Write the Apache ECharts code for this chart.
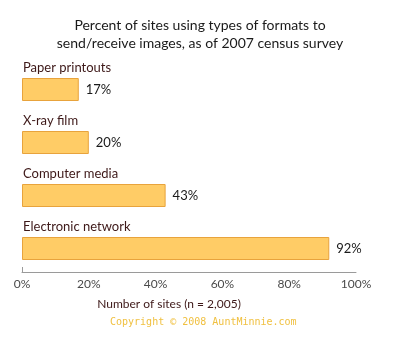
<!DOCTYPE html>
<html>
<head>
<meta charset="utf-8">
<script src="https://cdn.jsdelivr.net/npm/echarts@6/dist/echarts.min.js"></script>
<style>
  html, body { margin: 0; padding: 0; background: #fff; }
  #chart { width: 400px; height: 339px; }
</style>
</head>
<body>
<div id="chart"></div>
<script>
// Formats used to send/receive images (top to bottom)
const categories = ['Paper printouts', 'X-ray film', 'Computer media', 'Electronic network'];
const percentages = [17, 20, 43, 92];
const tickValues = [0, 20, 40, 60, 80, 100];

const titleText = 'Percent of sites using types of formats to\nsend/receive images, as of 2007 census survey';
const axisTitle = 'Number of sites (n = 2,005)';
const copyrightText = 'Copyright \u00a9 2008 AuntMinnie.com';

const FONT = 'Lato, "Noto Sans", sans-serif';
const MAROON = '#3d1818';

const chart = echarts.init(document.getElementById('chart'), null, { renderer: 'canvas' });

chart.setOption({
  backgroundColor: '#ffffff',
  animation: false,
  title: [
    {
      text: titleText,
      left: 'center',
      top: 16,
      padding: 0,
      textStyle: { fontFamily: FONT, fontSize: 14, fontWeight: 'normal', color: '#1a1a1a', lineHeight: 18 }
    },
    {
      text: copyrightText,
      left: 110,
      top: 317,
      padding: 0,
      textStyle: { fontFamily: '"DejaVu Sans Mono", monospace', fontSize: 10, fontWeight: 'normal', color: '#f0c040' }
    }
  ],
  grid: { left: 22, right: 44, top: 63, bottom: 64, containLabel: false },
  xAxis: {
    type: 'value',
    min: 0,
    max: 100,
    interval: 20,
    offset: -3,
    name: axisTitle,
    nameLocation: 'middle',
    nameGap: 26,
    nameTextStyle: { fontFamily: FONT, fontSize: 12, color: MAROON, padding: [0, 40, 0, 0] },
    axisLine: { show: true, lineStyle: { color: '#9a9a9a', width: 1 } },
    axisTick: { show: false },
    splitLine: { show: false },
    axisLabel: {
      fontFamily: FONT,
      fontSize: 12,
      color: '#4a4a4a',
      margin: 6,
      formatter: function (v) { return tickValues.indexOf(v) >= 0 ? v + '%' : ''; }
    }
  },
  yAxis: {
    type: 'category',
    data: categories,
    inverse: true,
    axisLine: { show: false },
    axisTick: { show: false },
    axisLabel: { show: false },
    splitLine: { show: false }
  },
  series: [
    {
      // Category name above each bar
      type: 'bar',
      data: percentages.map(function () { return 0; }),
      barWidth: 23,
      barGap: '-100%',
      silent: true,
      itemStyle: { color: 'rgba(0,0,0,0)' },
      label: {
        show: true,
        position: [1, -17],
        formatter: '{b}',
        fontFamily: FONT,
        fontSize: 13,
        color: MAROON
      }
    },
    {
      type: 'bar',
      data: percentages,
      barWidth: 23,
      barGap: '-100%',
      itemStyle: { color: '#ffcc66', borderColor: '#e8a33c', borderWidth: 1 },
      label: {
        show: true,
        position: 'right',
        distance: 7,
        formatter: '{c}%',
        fontFamily: FONT,
        fontSize: 13,
        color: '#1a1a1a'
      }
    },
    {
      // Small tick at the origin of the axis
      type: 'line',
      data: [],
      markLine: {
        silent: true,
        symbol: 'none',
        label: { show: false },
        lineStyle: { color: '#9a9a9a', width: 1, type: 'solid' },
        data: [[{ coord: [0, 3.5], y: 267 }, { coord: [0, 3.5], y: 272 }]]
      }
    }
  ]
});
</script>
</body>
</html>
